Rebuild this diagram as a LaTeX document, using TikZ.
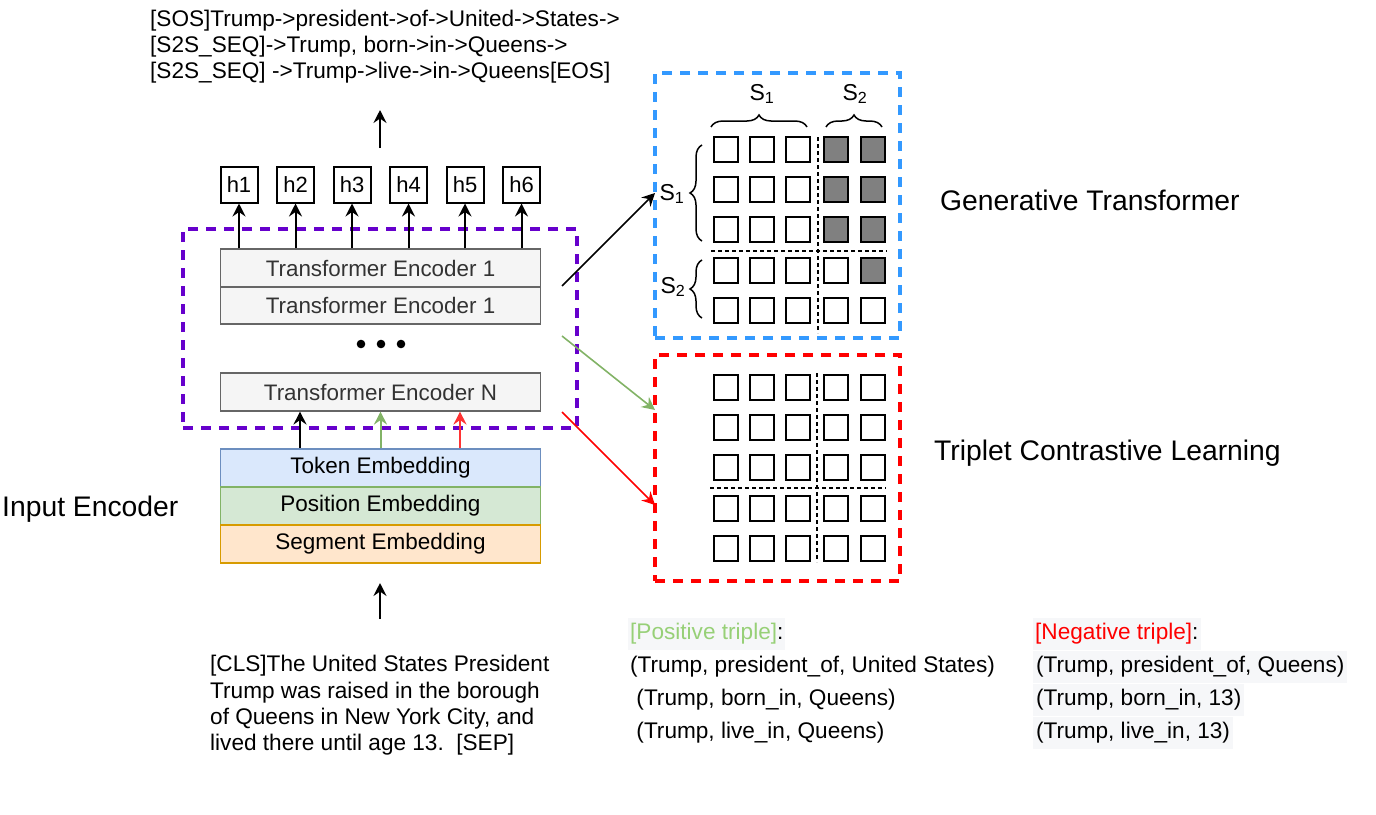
\documentclass[tikz,border=0pt]{standalone}
\usepackage{fontspec}
\setmainfont{Liberation Sans}
\usetikzlibrary{arrows.meta,decorations.pathreplacing}
\definecolor{encfill}{HTML}{F5F5F5}
\definecolor{encline}{HTML}{666666}
\definecolor{enctext}{HTML}{333333}
\definecolor{tokfill}{HTML}{DAE8FC}\definecolor{tokline}{HTML}{6C8EBF}
\definecolor{posfill}{HTML}{D5E8D4}\definecolor{posline}{HTML}{82B366}
\definecolor{segfill}{HTML}{FFE6CC}\definecolor{segline}{HTML}{D79B00}
\definecolor{purp}{HTML}{6600CC}
\definecolor{bluedash}{HTML}{3399FF}
\definecolor{reddash}{HTML}{FF0000}
\definecolor{greenarr}{HTML}{82B366}
\definecolor{redarr}{HTML}{FF3333}
\definecolor{cellgray}{HTML}{808080}
\definecolor{posgreen}{HTML}{97D077}
\definecolor{hlbg}{HTML}{F6F7F9}
\newcommand{\fsz}[1]{\fontsize{#1}{#1}\selectfont}
\begin{document}
\begin{tikzpicture}[x=1pt,y=-1pt,
  enc/.style={draw=encline, fill=encfill, text=enctext, line width=1.6pt, minimum width=320pt, minimum height=37.5pt, inner sep=0pt, font=\fsz{22.4}},
  emb/.style={line width=1.6pt, minimum width=320pt, minimum height=38pt, inner sep=0pt, font=\fsz{22.5}},
  hbox/.style={draw, line width=2pt, minimum width=37pt, minimum height=36pt, inner sep=0pt, font=\fsz{22}},
  cell/.style={draw, line width=2pt, minimum width=24pt, minimum height=25pt, inner sep=0pt},
  arr/.style={-{Stealth[length=13pt,width=13pt,inset=4.5pt]}, line width=2pt},
  frame/.style={line width=3.2pt, dash pattern=on 10pt off 8pt, inner sep=0pt},
  divider/.style={line width=1.5pt, dash pattern=on 4pt off 3pt},
  brc/.style={decorate, decoration={brace, amplitude=12pt}, line width=1.5pt},
  txt/.style={anchor=base west, inner sep=0pt, font=\fsz{22.6}},
  big/.style={anchor=base west, inner sep=0pt, font=\fsz{28.3}},
  slab/.style={anchor=base, inner sep=0pt, font=\fsz{23}},
  trip/.style={anchor=base west, inner xsep=2pt, inner ysep=4pt, text height=17pt, text depth=7pt, font=\fsz{22.6}},
]
\useasboundingbox (0,0) rectangle (1376,814);

% top output text
\node[txt] (o1) at (150,26) {[SOS]Trump->president->of->United->States->};
\node[txt] (o2) at (150,52) {[S2S\_SEQ]->Trump, born->in->Queens->};
\node[txt] (o3) at (150,78) {[S2S\_SEQ] ->Trump->live->in->Queens[EOS]};
\coordinate (upS) at (380,148);
\coordinate (upE) at (380,110);
\draw[arr] (upS) -- (upE);

% h boxes
\foreach \i/\hx in {1/239,2/295.5,3/352,4/408.5,5/465,6/521.5}
  \node[hbox] (h\i) at (\hx,184.5) {h\i};

% encoder frame
\node[frame, draw=purp, minimum width=394pt, minimum height=199pt] (pframe) at (380,328.5) {};

% encoders
\node[enc] (e1) at (380.5,268) {Transformer Encoder 1};
\node[enc] (e2) at (380.5,305.5) {Transformer Encoder 1};
\node[enc] (eN) at (380.5,392) {Transformer Encoder N};
\foreach \i in {1,...,6}
  \draw[arr] (h\i.south |- e1.north) -- (h\i.south);
\foreach \dx in {361,381,401}
  \fill (\dx,344) circle (4.3pt);

% embeddings
\node[emb, draw=tokline, fill=tokfill] (tok) at (380.5,468) {Token Embedding};
\node[emb, draw=posline, fill=posfill] (pos) at (380.5,506) {Position Embedding};
\node[emb, draw=segline, fill=segfill] (seg) at (380.5,544) {Segment Embedding};
\draw[arr] ([xshift=-80.5pt]tok.north) -- ([xshift=-80.5pt]eN.south);
\draw[arr, draw=greenarr, fill=greenarr] (tok.north) -- (eN.south);
\draw[arr, draw=redarr, fill=redarr] ([xshift=79.5pt]tok.north) -- ([xshift=79.5pt]eN.south);

\node[big] (ie) at (2,516) {Input Encoder};

% input text
\coordinate (inS) at (380,619);
\coordinate (inE) at (380,583);
\draw[arr] (inS) -- (inE);
\node[txt] (i1) at (210,671) {[CLS]The United States President};
\node[txt] (i2) at (210,698) {Trump was raised in the borough};
\node[txt] (i3) at (210,724) {of Queens in New York City, and};
\node[txt] (i4) at (210,750) {lived there until age 13.\ \ [SEP]};

% generative grid
\node[frame, draw=bluedash, minimum width=245pt, minimum height=265pt] (bframe) at (777.5,205.5) {};
\foreach \ri/\ry in {1/149.5,2/189.7,3/229.8,4/270,5/310.7}
  \foreach \ci/\cx in {1/725.5,2/762,3/798.3,4/836,5/872.7}{
    \pgfmathtruncatemacro{\g}{((\ri<=3) && (\ci>=4)) || ((\ri==4) && (\ci==5))}
    \def\fc{white}\ifnum\g=1 \def\fc{cellgray}\fi
    \node[cell, fill=\fc] (a-\ri-\ci) at (\cx,\ry) {};
  }
\draw[divider] (818,137) -- (818,333);
\draw[divider] (711,251) -- (887,251);
\draw[brc] (711,127) -- (807,127);
\draw[brc] (826,127) -- (882,127);
\draw[brc] (702,241) -- (702,145);
\draw[brc] (702,318) -- (702,260);
\node[slab] (ls1) at (762,100) {S\textsubscript{1}};
\node[slab] (ls2) at (855,100) {S\textsubscript{2}};
\node[slab] (ls3) at (672,200) {S\textsubscript{1}};
\node[slab] (ls4) at (673,293) {S\textsubscript{2}};
\node[big] (gt) at (940,210) {Generative Transformer};

% contrastive grid
\node[frame, draw=reddash, minimum width=245pt, minimum height=226pt] (rframe) at (777.5,468) {};
\foreach \ri/\ry in {1/387,2/427.3,3/467.5,4/508.3,5/548.3}
  \foreach \ci/\cx in {1/725.5,2/762,3/798.3,4/836,5/872.7}
    \node[cell, fill=white] (b-\ri-\ci) at (\cx,\ry) {};
\draw[divider] (817,373) -- (817,562);
\draw[divider] (710,488) -- (886,488);
\node[big] (tc) at (934,460) {Triplet Contrastive Learning};

% arrows to the grids
\coordinate (k1) at (562,286);
\coordinate (k2) at (655,193);
\coordinate (g1) at (562,336);
\coordinate (g2) at (655,410);
\coordinate (r1) at (562,412);
\coordinate (r2) at (655,505);
\draw[arr, line width=1.6pt] (k1) -- (k2);
\draw[arr, line width=1.6pt, draw=greenarr, fill=greenarr] (g1) -- (g2);
\draw[arr, line width=1.6pt, draw=reddash, fill=reddash] (r1) -- (r2);

% triples
\node[trip, fill=hlbg] (pl) at (628,639) {\textcolor{posgreen}{[Positive triple]}:};
\node[trip] (p1) at (628,672) {(Trump, president\_of, United States)};
\node[trip] (p2) at (628,705) {\ (Trump, born\_in, Queens)};
\node[trip] (p3) at (628,738) {\ (Trump, live\_in, Queens)};
\node[trip, fill=hlbg] (nl) at (1033,639) {\textcolor{reddash}{[Negative triple]}:};
\node[trip, fill=hlbg, inner xsep=3pt] (n1) at (1033,672) {(Trump, president\_of, Queens)};
\node[trip, fill=hlbg, inner xsep=3pt] (n2) at (1033,705) {(Trump, born\_in, 13)};
\node[trip, fill=hlbg, inner xsep=3pt] (n3) at (1033,738) {(Trump, live\_in, 13)};
\end{tikzpicture}
\end{document}
